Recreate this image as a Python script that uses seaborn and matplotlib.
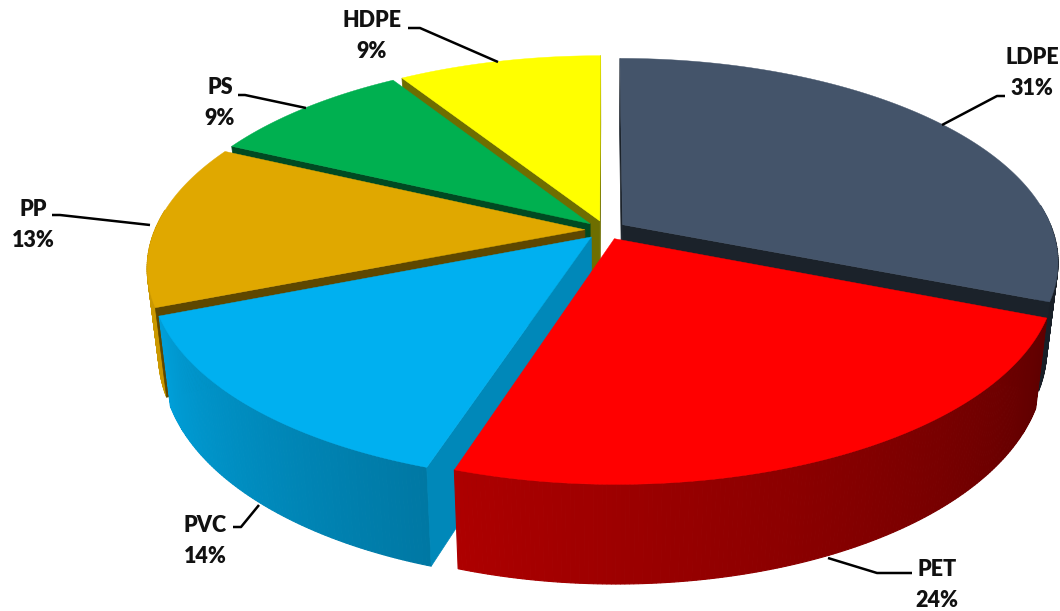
import numpy as np
import matplotlib
matplotlib.use("Agg")
import matplotlib.pyplot as plt
import seaborn as sns

# ---- data ----
categories = ["LDPE", "PET", "PVC", "PP", "PS", "HDPE"]
shares = [31, 24, 14, 13, 9, 9]
colors_hex = ["#44546A", "#FF0000", "#00B0F0", "#E0A800", "#00B050", "#FFFF00"]

# ---- label layout (pixel space of the axes) ----
label_xy = [(1032, 73), (937, 585), (205, 541), (33, 225), (220, 103), (372, 36)]
leaders = [
    [(942, 125), (997, 96), (1005, 96)],
    [(828, 558), (877, 573), (912, 573)],
    [(259, 505), (241, 527), (233, 527)],
    [(150, 225), (60, 215), (52, 215)],
    [(306, 108), (245, 95), (238, 95)],
    [(498, 62), (420, 28), (408, 28)],
]

# ---- 3-D view ----
CX, CY = 605.5, 230
RX, RY = 430, 198
PERSP = 0.18
EXPLODE = 0.048
BOTTOM_SCALE = 0.975

sns.set_theme(style="white")
plt.rcParams["font.family"] = ["Lato", "DejaVu Sans"]
palette = sns.color_palette(colors_hex)

fig, ax = plt.subplots(figsize=(10.60, 6.11), dpi=100)
fig.subplots_adjust(0, 0, 1, 1)
ax.set_xlim(0, 1060)
ax.set_ylim(611, 0)
ax.axis("off")


def top(u, v):
    w = 1 + PERSP * v
    return CX + RX * u / w, CY - RY * v / w


def bottom(u, v):
    x, y = top(u, v)
    return CX + BOTTOM_SCALE * (x - CX), y + 84 - 15 * v


def shade(deg):
    d = (deg + 360) % 360 - 360  # map to (-360, 0]
    return np.interp(d, [-270, -205, -158, -108, -21, 0], [0.9, 0.92, 0.9, 0.68, 0.37, 0.4])


def darker(col, f):
    return tuple(c * f for c in col)


cut_factor = [0.4, 0.4, 0.77, 0.42, 0.42, 0.43]

bounds = 90 - np.cumsum([0] + shares) * 3.6
slices = []
for i in range(len(shares)):
    a0, a1 = bounds[i], bounds[i + 1]
    mid = np.radians((a0 + a1) / 2)
    slices.append((i, a0, a1, EXPLODE * np.cos(mid), EXPLODE * np.sin(mid)))

for i in [5, 4, 3, 0, 2, 1]:
    _, a0, a1, ou, ov = slices[i]
    col = palette[i]
    th = np.radians(np.linspace(a0, a1, int(abs(a1 - a0) * 2) + 2))
    us, vs = ou + np.cos(th), ov + np.sin(th)
    # outer wall: only the part that faces the viewer
    for k in range(len(th) - 1):
        tm = (th[k] + th[k + 1]) / 2
        if np.sin(tm) > 0.1:
            continue
        p = [top(us[k], vs[k]), top(us[k + 1], vs[k + 1]),
             bottom(us[k + 1], vs[k + 1]), bottom(us[k], vs[k])]
        ax.fill(*zip(*p), color=darker(col, shade(np.degrees(tm))), lw=0.8)
    # cut faces: only those that face the viewer
    cut = darker(col, cut_factor[i])
    for end, normal in ((0, a0 + 90), (-1, a1 - 90)):
        if np.sin(np.radians(normal)) > 0.01:
            continue
        p = [top(ou, ov), top(us[end], vs[end]), bottom(us[end], vs[end]), bottom(ou, ov)]
        ax.fill(*zip(*p), color=cut, lw=0.5)
    # top face
    x, y = top(us, vs)
    ax.fill(np.r_[top(ou, ov)[0], x], np.r_[top(ou, ov)[1], y], color=col, lw=0.3)

for name, s, (x, y), pts in zip(categories, shares, label_xy, leaders):
    ax.plot(*zip(*pts), color="black", lw=1.8, solid_capstyle="butt")
    ax.text(x, y, f"{name}\n{s}%", ha="center", va="center", fontsize=15.5,
            fontweight="heavy", color="#111111", linespacing=1.55)

fig.savefig("out.png", dpi=100, facecolor="white")
